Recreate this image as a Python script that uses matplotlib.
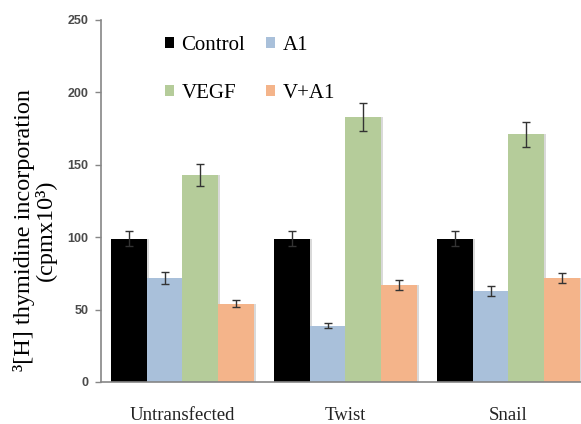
import numpy as np
import matplotlib
matplotlib.use("Agg")
import matplotlib.pyplot as plt

groups = ['Untransfected', 'Twist', 'Snail']
series = ['Control', 'A1', 'VEGF', 'V+A1']
colors = ['#000000', '#a9c0da', '#b5cc9a', '#f4b48a']

# values (cpm x 10^3)
control = [99, 99, 99]
a1 = [72, 39, 63]
vegf = [143, 183, 171]
va1 = [54, 67, 72]

control_err = [5, 5, 5]
a1_err = [4, 2, 3.5]
vegf_err = [7.5, 9.5, 8.5]
va1_err = [2.5, 3.5, 3.5]

values = [control, a1, vegf, va1]
errors = [control_err, a1_err, vegf_err, va1_err]

fig = plt.figure(figsize=(5.81, 4.24), dpi=100)
ax = fig.add_axes([101 / 581, 42 / 424, 489 / 581, 362 / 424])

x = np.arange(len(groups))
width = 0.22
handles = {}
for i, (name, vals, errs, col) in enumerate(zip(series, values, errors, colors)):
    pos = x + (i - 1.5) * width
    # faint shadow on the right of each bar
    ax.bar(pos + 0.012, vals, width, color='#d9d9d9', zorder=1)
    b = ax.bar(pos, vals, width, color=col, zorder=2)
    ax.errorbar(pos, vals, yerr=errs, fmt='none', ecolor='#333333',
                elinewidth=1, capsize=3, capthick=1, zorder=3)
    handles[name] = b

ax.set_xlim(-0.5, 2.5)
ax.set_ylim(0, 250)
ax.set_yticks([0, 50, 100, 150, 200, 250])
ax.set_xticks(x)
ax.set_xticklabels(groups, family='Liberation Serif', fontsize=13.5, color='#222222')
ax.tick_params(axis='x', length=0, pad=18)
ax.tick_params(axis='y', length=4, width=1, color='#868686', labelsize=9,
               labelcolor='#4a4a4a', pad=5)
for lab in ax.get_yticklabels():
    lab.set_fontweight('bold')
    lab.set_family('Liberation Sans')

for s in ['top', 'right']:
    ax.spines[s].set_visible(False)
for s in ['left', 'bottom']:
    ax.spines[s].set_color('#868686')
    ax.spines[s].set_linewidth(1.2)

fig.text(35 / 581, 1 - 230 / 424, '³[H] thymidine incorporation\n(cpmx10³)',
         family='Liberation Serif', fontsize=17.5, rotation=90,
         ha='center', va='center', ma='center', linespacing=1.0)

order = ['Control', 'VEGF', 'A1', 'V+A1']
leg = ax.legend([handles[n] for n in order], order, ncol=2, frameon=False,
                loc='upper left', bbox_to_anchor=(0.105, 0.99),
                prop={'family': 'Liberation Serif', 'size': 15},
                handlelength=0.45, handleheight=0.45, handletextpad=0.35,
                labelspacing=1.4, columnspacing=1.0, borderaxespad=0.2)

fig.savefig('out.png', dpi=100)
